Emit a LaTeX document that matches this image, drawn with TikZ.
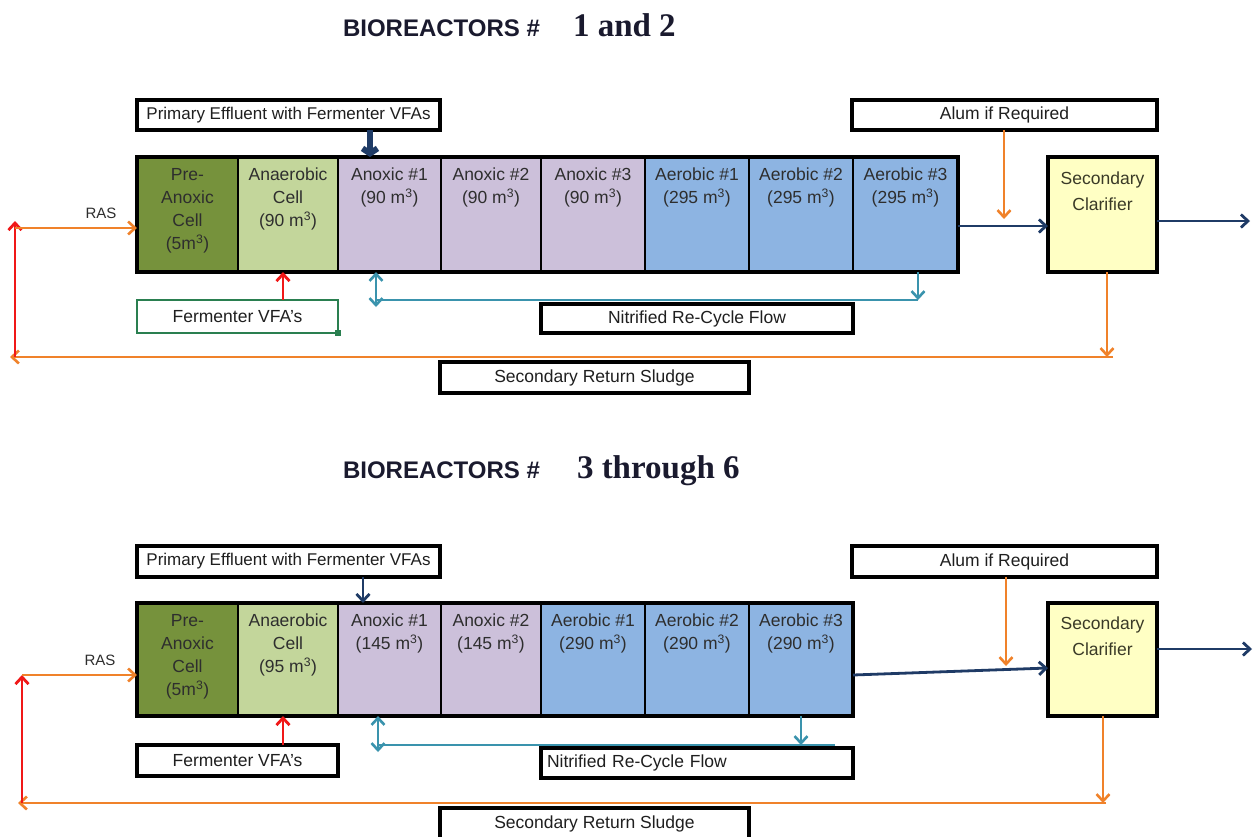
\documentclass[tikz,border=0pt]{standalone}
\usepackage{fontspec}
\setmainfont{Liberation Sans}
\newfontfamily\titleserif{Liberation Serif}
\usetikzlibrary{arrows.meta}
\definecolor{cPre}{HTML}{76923C}
\definecolor{cAna}{HTML}{C3D69B}
\definecolor{cAnox}{HTML}{CCC0DA}
\definecolor{cAer}{HTML}{8DB4E2}
\definecolor{cClar}{HTML}{FFFFC4}
\definecolor{cFlow}{HTML}{1F3B66}
\definecolor{cOrg}{HTML}{F0822A}
\definecolor{cRed}{HTML}{F01818}
\definecolor{cTeal}{HTML}{3A93AD}
\definecolor{cGrn}{HTML}{2A7F50}
\definecolor{cTxt}{HTML}{2E2E2E}
\definecolor{cTitle}{HTML}{1A1A2E}
\newcommand{\firstln}{\rule{0pt}{13.5pt}}
\begin{document}
\begin{tikzpicture}[x=1pt,y=-1pt,
  every node/.style={inner sep=0pt, outer sep=0pt},
  cellbox/.style={draw=black, line width=2pt, anchor=north west},
  clarbox/.style={draw=black, line width=3.5pt, anchor=north west, fill=cClar},
  ctext/.style={align=center, anchor=north, font=\fontsize{17.5}{23.3}\selectfont, text=cTxt},
  clartext/.style={align=center, anchor=north, font=\fontsize{17.5}{26}\selectfont, text=cTxt!85!olive},
  lbl/.style={draw=black, line width=3.2pt, fill=white, anchor=north west, font=\fontsize{17.5}{20}\selectfont, text=black!88},
  tip/.style={-{Straight Barb[length=7pt,width=13pt]}},
  flow/.style={cFlow, line width=2.8pt, tip},
  orng/.style={cOrg, line width=2.6pt, tip},
  redarr/.style={cRed, line width=2.8pt, tip},
  tealc/.style={cTeal, line width=2.6pt},
  titlesans/.style={anchor=base west, font=\bfseries\fontsize{24}{26}\selectfont, text=cTitle},
  titleser/.style={anchor=base west, font=\titleserif\bfseries\fontsize{33}{36}\selectfont, text=cTitle},
  raslbl/.style={font=\fontsize{15}{17}\selectfont, text=cTxt}
]
\useasboundingbox[fill=white] (0,0) rectangle (1260,836);

% ================= TOP: BIOREACTORS 1 and 2 =================
\node[titlesans] (ti1a) at (343,36) {BIOREACTORS \#};
\node[titleser] (ti1b) at (573,36) {1 and 2};

\node[lbl, minimum width=303, minimum height=30, font=\fontsize{17}{20}\selectfont] (pe1) at (137,100) {Primary Effluent with Fermenter VFAs};

\node[cellbox, fill=cPre,  minimum width=101, minimum height=115] (a1) at (137,157) {};
\node[cellbox, fill=cAna,  minimum width=100, minimum height=115] (a2) at (238,157) {};
\node[cellbox, fill=cAnox, minimum width=103, minimum height=115] (a3) at (338,157) {};
\node[cellbox, fill=cAnox, minimum width=100, minimum height=115] (a4) at (441,157) {};
\node[cellbox, fill=cAnox, minimum width=104, minimum height=115] (a5) at (541,157) {};
\node[cellbox, fill=cAer,  minimum width=104, minimum height=115] (a6) at (645,157) {};
\node[cellbox, fill=cAer,  minimum width=104, minimum height=115] (a7) at (749,157) {};
\node[cellbox, fill=cAer,  minimum width=105, minimum height=115] (a8) at (853,157) {};
\draw[line width=4pt] (a1.north west) rectangle (a8.south east);

\node[ctext, yshift=-9.5pt] (ta1) at (a1.north) {\firstln Pre-\\Anoxic\\Cell\\(5m\textsuperscript{3})};
\node[ctext, yshift=-9.5pt] (ta2) at (a2.north) {\firstln Anaerobic\\Cell\\(90 m\textsuperscript{3})};
\node[ctext, yshift=-9.5pt] (ta3) at (a3.north) {\firstln Anoxic \#1\\(90 m\textsuperscript{3})};
\node[ctext, yshift=-9.5pt] (ta4) at (a4.north) {\firstln Anoxic \#2\\(90 m\textsuperscript{3})};
\node[ctext, yshift=-9.5pt] (ta5) at (a5.north) {\firstln Anoxic \#3\\(90 m\textsuperscript{3})};
\node[ctext, yshift=-9.5pt] (ta6) at (a6.north) {\firstln Aerobic \#1\\(295 m\textsuperscript{3})};
\node[ctext, yshift=-9.5pt] (ta7) at (a7.north) {\firstln Aerobic \#2\\(295 m\textsuperscript{3})};
\node[ctext, yshift=-9.5pt] (ta8) at (a8.north) {\firstln Aerobic \#3\\(295 m\textsuperscript{3})};

\node[clarbox, minimum width=109, minimum height=115] (cl1) at (1048,157) {};
\node[clartext, yshift=-14pt] (tc1) at (cl1.north) {\firstln Secondary\\Clarifier};

\node[lbl, minimum width=305, minimum height=30] (al1) at (852,100) {Alum if Required};

\coordinate (pa1) at (370,157);
\draw[cFlow, line width=6pt, -{Straight Barb[length=5pt,width=15pt]}] (pe1.south -| pa1) -- (pa1);

\coordinate (ad1) at (1004,219);
\draw[orng] (al1.south -| ad1) -- (ad1);

\coordinate (fy1) at (0,226);
\draw[flow] (a8.east |- fy1) -- (cl1.west |- fy1);
\coordinate (out1) at (1250,221);
\draw[flow] (cl1.east |- out1) -- (out1);

\coordinate (rb1) at (1107,357);
\draw[orng] (cl1.south -| rb1) -- (rb1);
\coordinate (rr1) at (1113,357);
\coordinate (rl1) at (10,357);
\draw[orng] (rr1) -- (rl1);
\coordinate (rt1) at (15,221);
\draw[redarr] (rt1 |- rl1) -- (rt1);
\coordinate (ras1) at (15,228);
\draw[orng] (ras1) -- (a1.west |- ras1);
\node[raslbl] (rasl1) at (101,213) {RAS};

\node[lbl, draw=cGrn, line width=2.5pt, minimum width=201, minimum height=33] (fv1) at (137,300) {Fermenter VFA's};
\node[fill=cGrn, minimum size=6] (gm1) at (fv1.south east) {};
\coordinate (fa1) at (283,0);
\draw[redarr] (fv1.north -| fa1) -- (a2.south -| fa1);

\node[lbl, minimum width=312, minimum height=29] (nr1) at (541,304) {Nitrified Re-Cycle Flow};
\coordinate (tr1) at (918,300);
\draw[tealc, tip] (a8.south -| tr1) -- (tr1);
\coordinate (tl1) at (376,300);
\draw[tealc] (tr1) -- (tl1);
\coordinate (tb1) at (376,307);
\draw[tealc, {Straight Barb[length=7pt,width=13pt]}-{Straight Barb[length=7pt,width=13pt]}] (tb1) -- (tb1 |- a3.south);

\node[lbl, minimum width=309, minimum height=31] (sr1) at (440,362) {Secondary Return Sludge};

% ================= BOTTOM: BIOREACTORS 3 through 6 =================
\node[titlesans] (ti2a) at (343,478) {BIOREACTORS \#};
\node[titleser] (ti2b) at (577,478) {3 through 6};

\node[lbl, minimum width=303, minimum height=31, font=\fontsize{17}{20}\selectfont] (pe2) at (137,546) {Primary Effluent with Fermenter VFAs};

\node[cellbox, fill=cPre,  minimum width=101, minimum height=113] (b1) at (137,603) {};
\node[cellbox, fill=cAna,  minimum width=100, minimum height=113] (b2) at (238,603) {};
\node[cellbox, fill=cAnox, minimum width=103, minimum height=113] (b3) at (338,603) {};
\node[cellbox, fill=cAnox, minimum width=100, minimum height=113] (b4) at (441,603) {};
\node[cellbox, fill=cAer,  minimum width=104, minimum height=113] (b5) at (541,603) {};
\node[cellbox, fill=cAer,  minimum width=104, minimum height=113] (b6) at (645,603) {};
\node[cellbox, fill=cAer,  minimum width=104, minimum height=113] (b7) at (749,603) {};
\draw[line width=4pt] (b1.north west) rectangle (b7.south east);

\node[ctext, yshift=-9.5pt] (tb1t) at (b1.north) {\firstln Pre-\\Anoxic\\Cell\\(5m\textsuperscript{3})};
\node[ctext, yshift=-9.5pt] (tb2t) at (b2.north) {\firstln Anaerobic\\Cell\\(95 m\textsuperscript{3})};
\node[ctext, yshift=-9.5pt] (tb3t) at (b3.north) {\firstln Anoxic \#1\\(145 m\textsuperscript{3})};
\node[ctext, yshift=-9.5pt] (tb4t) at (b4.north) {\firstln Anoxic \#2\\(145 m\textsuperscript{3})};
\node[ctext, yshift=-9.5pt] (tb5t) at (b5.north) {\firstln Aerobic \#1\\(290 m\textsuperscript{3})};
\node[ctext, yshift=-9.5pt] (tb6t) at (b6.north) {\firstln Aerobic \#2\\(290 m\textsuperscript{3})};
\node[ctext, yshift=-9.5pt] (tb7t) at (b7.north) {\firstln Aerobic \#3\\(290 m\textsuperscript{3})};

\node[clarbox, minimum width=109, minimum height=113] (cl2) at (1048,603) {};
\node[clartext, yshift=-13pt] (tc2) at (cl2.north) {\firstln Secondary\\Clarifier};

\node[lbl, minimum width=305, minimum height=31] (al2) at (852,546) {Alum if Required};

\coordinate (pa2) at (363,603);
\draw[flow] (pe2.south -| pa2) -- (pa2);

\coordinate (ad2) at (1006,666);
\draw[orng] (al2.south -| ad2) -- (ad2);

\coordinate (fs2) at (0,675);
\coordinate (fe2) at (0,668);
\draw[flow] (b7.east |- fs2) -- (cl2.west |- fe2);
\coordinate (out2) at (1252,649);
\draw[flow] (cl2.east |- out2) -- (out2);

\coordinate (rb2) at (1103,803);
\draw[orng] (cl2.south -| rb2) -- (rb2);
\coordinate (rr2) at (1106,803);
\coordinate (rl2) at (18,803);
\draw[orng] (rr2) -- (rl2);
\coordinate (rt2) at (22,675);
\draw[redarr] (rt2 |- rl2) -- (rt2);
\coordinate (ras2) at (22,675);
\draw[orng] (ras2) -- (b1.west |- ras2);
\node[raslbl] (rasl2) at (100,660) {RAS};

\node[lbl, minimum width=201, minimum height=31] (fv2) at (137,745) {Fermenter VFA's};
\coordinate (fa2) at (283,0);
\draw[redarr] (fv2.north -| fa2) -- (b2.south -| fa2);

\node[lbl, minimum height=30, text width=300, inner xsep=6pt, align=left] (nr2) at (541,748) {Nitrified Re-Cycle Flow};
\coordinate (td2) at (801,745);
\draw[tealc, tip] (b7.south -| td2) -- (td2);
\coordinate (tr2) at (835,745);
\coordinate (tl2) at (378,745);
\draw[tealc] (tr2) -- (tl2);
\coordinate (tb2) at (378,752);
\draw[tealc, {Straight Barb[length=7pt,width=13pt]}-{Straight Barb[length=7pt,width=13pt]}] (tb2) -- (tb2 |- b3.south);

\node[lbl, minimum width=309, minimum height=31] (sr2) at (440,808) {Secondary Return Sludge};
\end{tikzpicture}
\end{document}
